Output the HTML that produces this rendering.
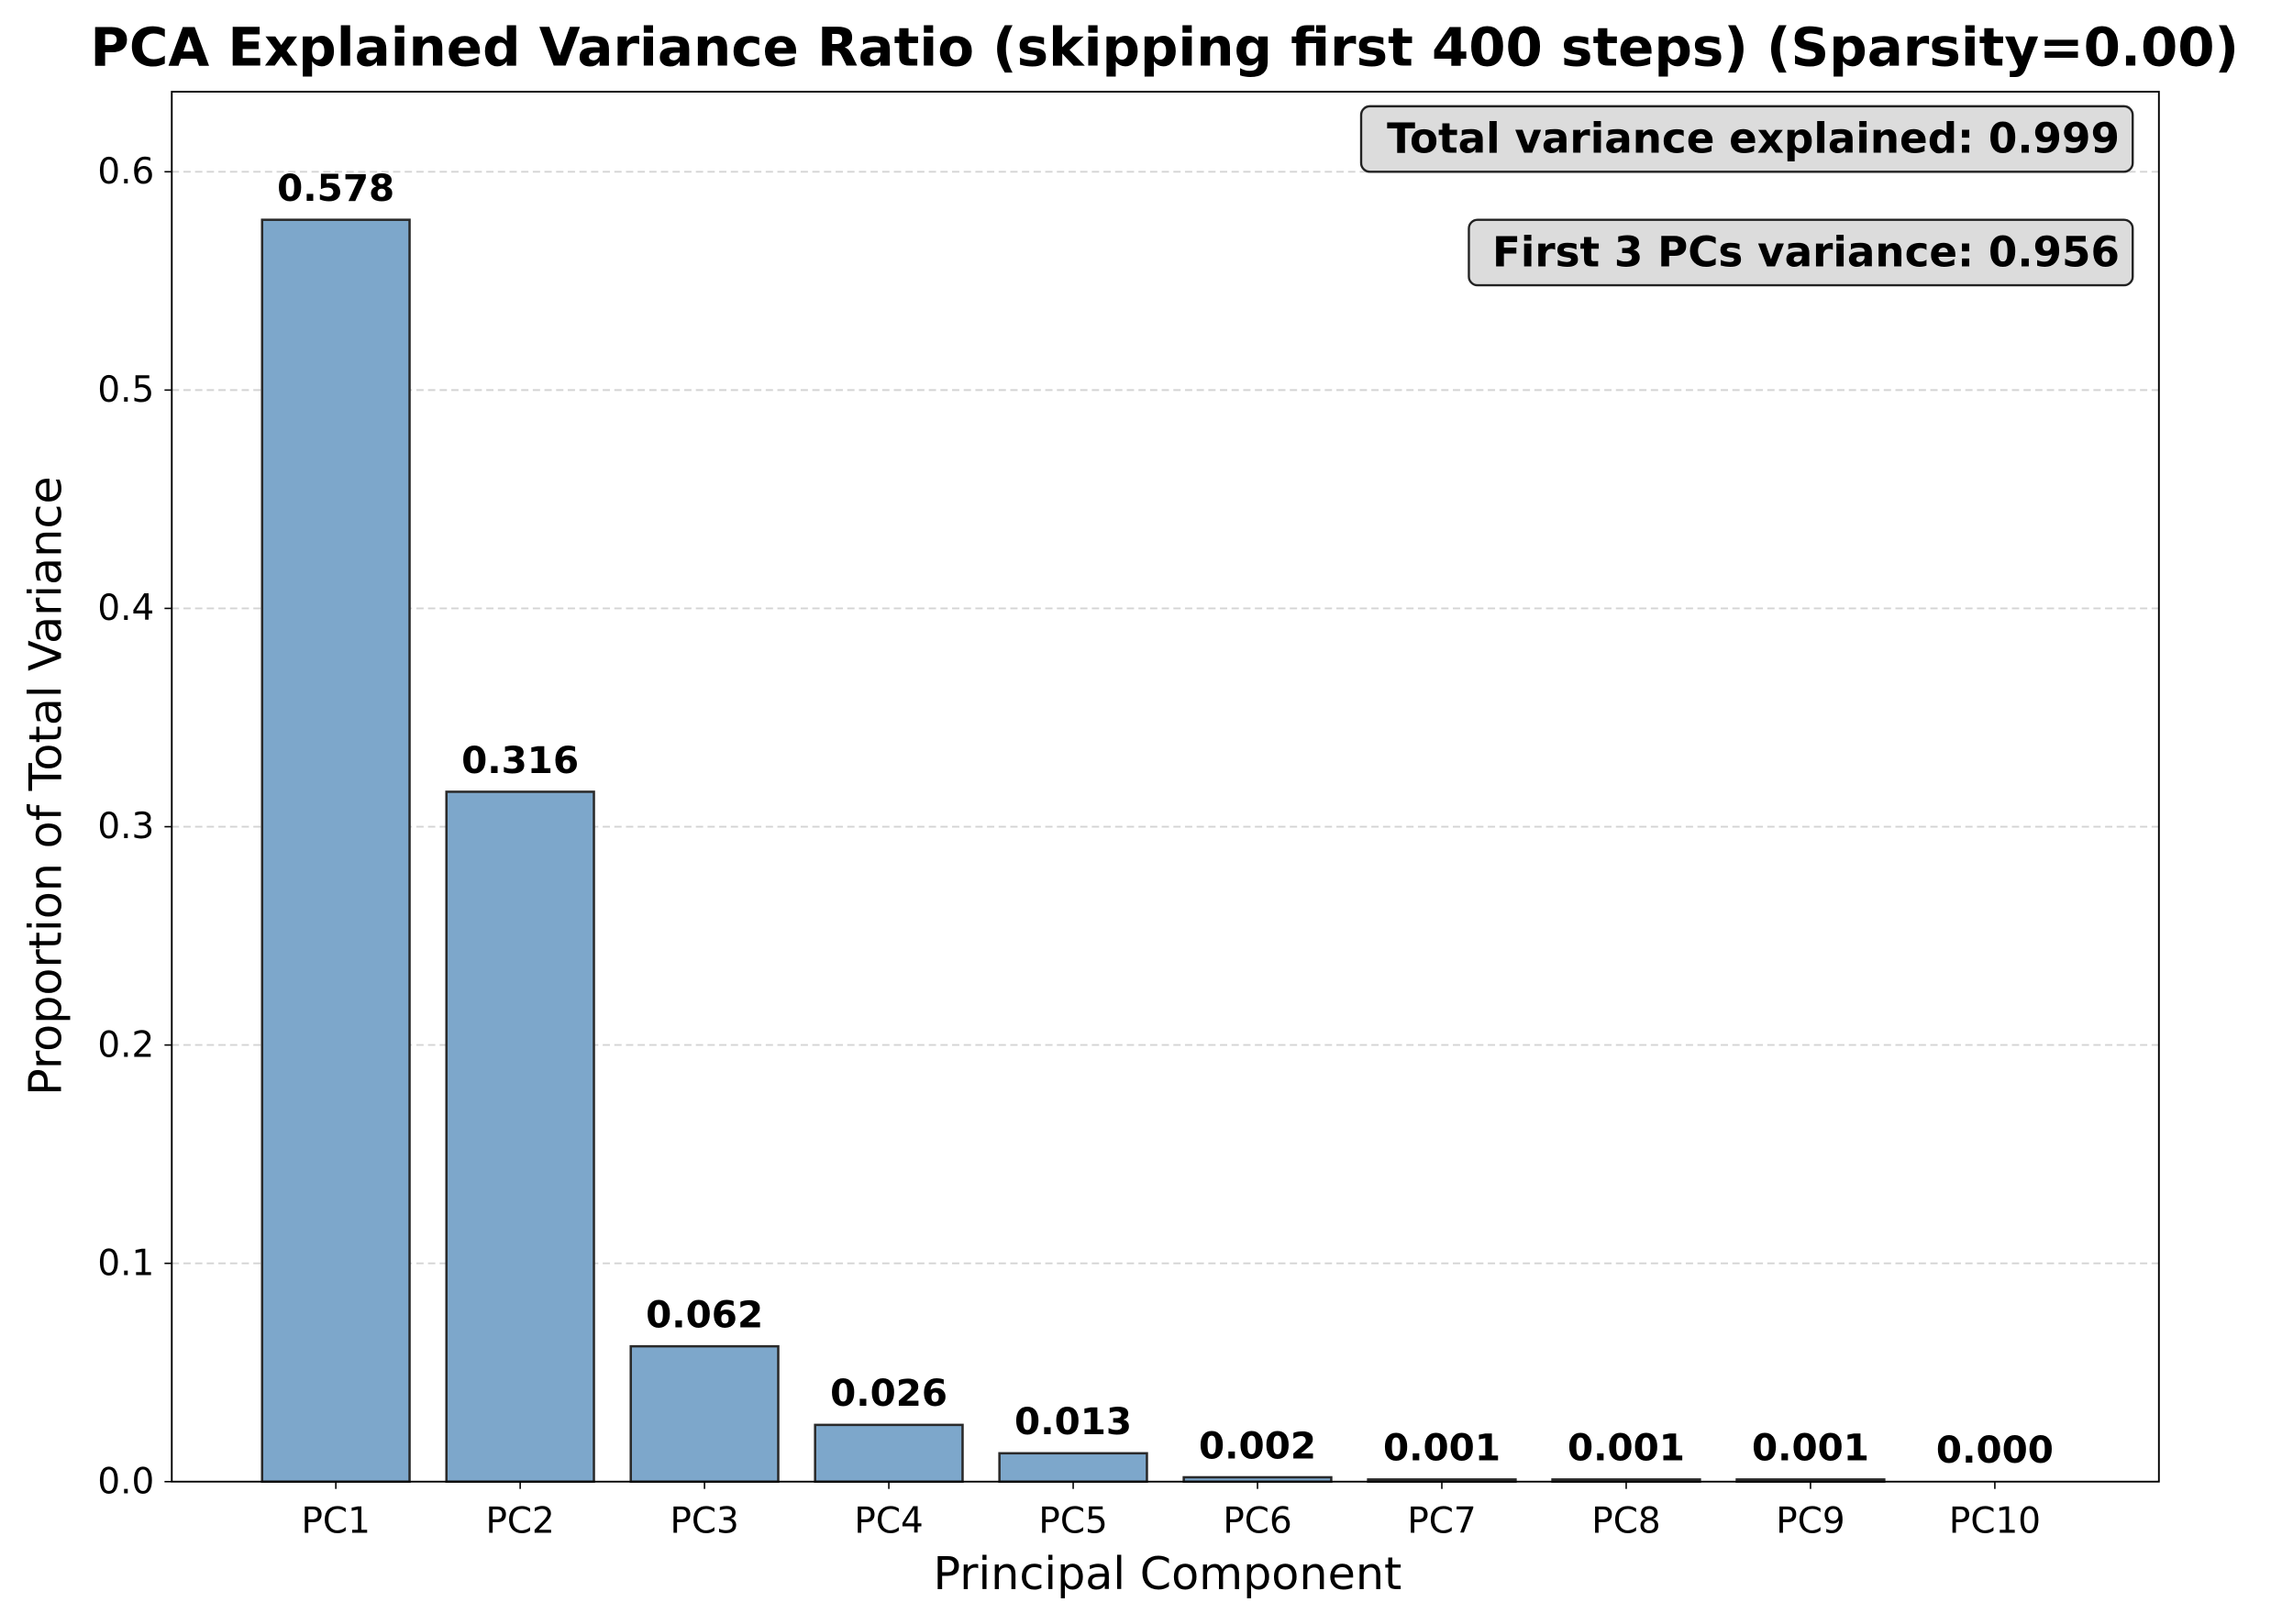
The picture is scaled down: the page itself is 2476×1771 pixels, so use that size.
<!DOCTYPE html>
<html><head><meta charset="utf-8"><style>html,body{margin:0;padding:0;background:#fff}svg{display:block}text{font-family:"DejaVu Sans","Liberation Sans",sans-serif}</style></head>
<body>
<svg id="chart" width="2476" height="1771" viewBox="0 0 1560 1115.8" xmlns="http://www.w3.org/2000/svg">
<rect width="1560" height="1116" fill="#fff"/>
<text x="800" y="45" text-anchor="middle" font-size="36.5" font-weight="bold">PCA Explained Variance Ratio (skipping first 400 steps) (Sparsity=0.00)</text>
<g id="grid"></g>
<g id="bars"></g>
<g id="labels"></g>
<rect x="118" y="63" width="1365" height="955" fill="none" stroke="#000" stroke-width="1.2"/>
<g id="yaxis"></g>
<g id="xaxis"></g>
<text transform="translate(42,540) rotate(-90)" text-anchor="middle" font-size="31">Proportion of Total Variance</text>
<text x="802" y="1092" text-anchor="middle" font-size="31">Principal Component</text>
<g>
<rect x="935" y="73" width="530" height="45" rx="6" fill="#dcdcdc" stroke="#222" stroke-width="1.5"/>
<text x="1456" y="105" text-anchor="end" font-size="28.5" font-weight="bold">Total variance explained: 0.999</text>
</g>
<g>
<rect x="1009" y="151" width="456" height="45" rx="6" fill="#dcdcdc" stroke="#222" stroke-width="1.5"/>
<text x="1456" y="183" text-anchor="end" font-size="28.5" font-weight="bold">First 3 PCs variance: 0.956</text>
</g>
</svg>
<script>
const categories = ["PC1","PC2","PC3","PC4","PC5","PC6","PC7","PC8","PC9","PC10"];
const values = [0.578,0.316,0.062,0.026,0.013,0.002,0.001,0.001,0.001,0.000];
const valueLabels = ["0.578","0.316","0.062","0.026","0.013","0.002","0.001","0.001","0.001","0.000"];
const yTicks = [0.0,0.1,0.2,0.3,0.4,0.5,0.6];
const yTickLabels = ["0.0","0.1","0.2","0.3","0.4","0.5","0.6"];

const NS="http://www.w3.org/2000/svg";
const L=118,R=1483,T=63,B=1018;
const xmin=-0.89,xmax=9.89,ymax=(B-T)/1500;
const x=i=>L+(i-xmin)/(xmax-xmin)*(R-L);
const y=v=>B-v/ymax*(B-T);
function mk(tag,attrs,parent){const e=document.createElementNS(NS,tag);for(const k in attrs)e.setAttribute(k,attrs[k]);document.getElementById(parent).appendChild(e);return e;}
yTicks.forEach((t,i)=>{
  if(t>0){const g=mk('line',{x1:L,x2:R,y1:y(t),y2:y(t),stroke:'#d4d4d4','stroke-dasharray':'5,3','stroke-width':1.2},'grid');
  
  }
  const tk=mk('line',{x1:L-5,x2:L,y1:y(t),y2:y(t),stroke:'#000','stroke-width':1},'yaxis');
  
  
  const lb=mk('text',{x:L-12,y:y(t)+8,'text-anchor':'end','font-size':24.5},'yaxis');
  lb.textContent=yTickLabels[i];
  
  
});
categories.forEach((c,i)=>{
  const w=0.8*(x(1)-x(0));
  const b=mk('rect',{x:x(i)-w/2,y:y(values[i]),width:w,height:Math.max(0,y(0)-y(values[i])),fill:'#7da7cb',stroke:'#2a2a2a','stroke-width':1.6},'bars');
  
  
  const v=mk('text',{x:x(i),y:y(values[i])-13,'text-anchor':'middle','font-size':25.5,'font-weight':'bold'},'labels');
  v.textContent=valueLabels[i];
  
  
  const tk=mk('line',{x1:x(i),x2:x(i),y1:B,y2:B+5,stroke:'#000','stroke-width':1},'xaxis');
  
  
  const lb=mk('text',{x:x(i),y:B+35,'text-anchor':'middle','font-size':24.5},'xaxis');
  lb.textContent=c;
  
  
});
</script>
</body></html>
